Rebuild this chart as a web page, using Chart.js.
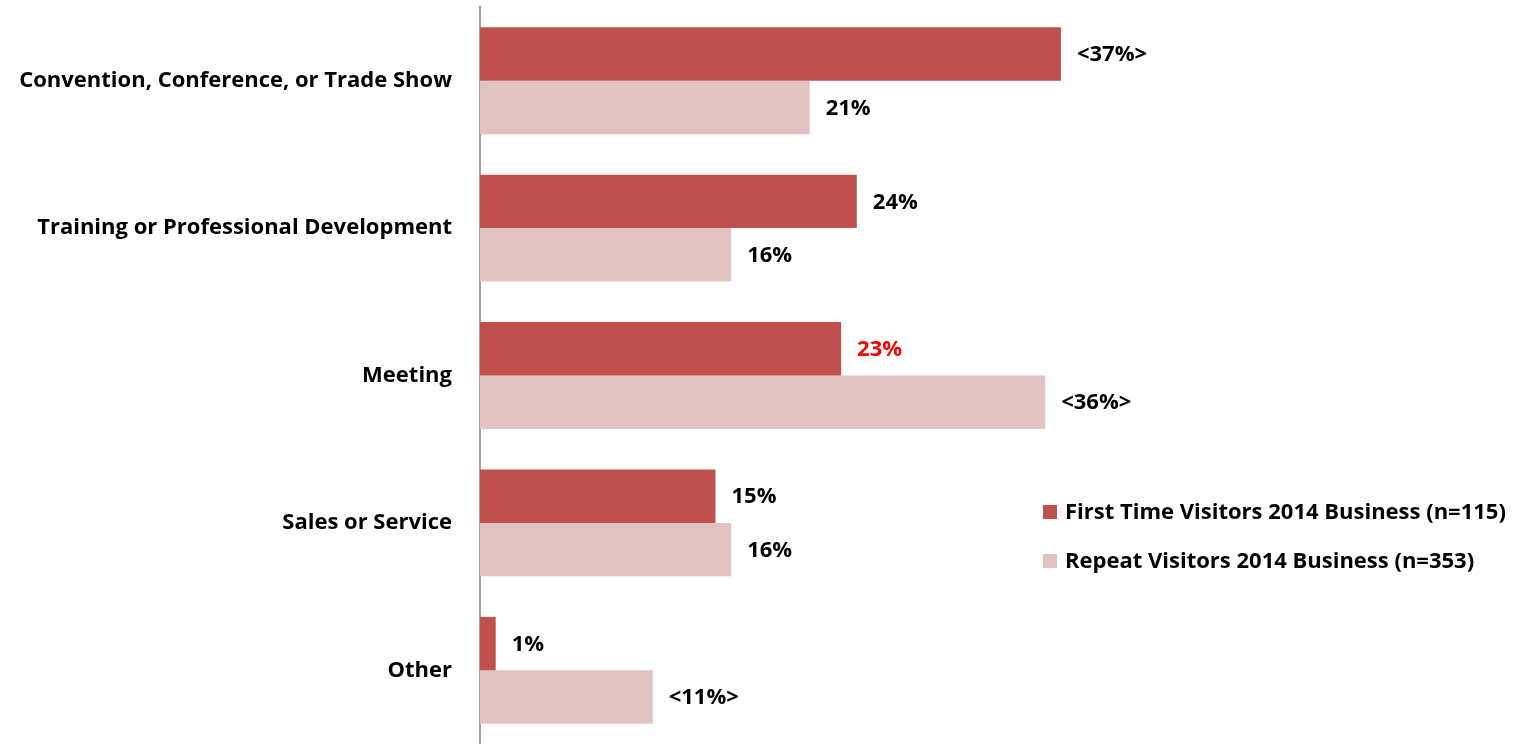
<!DOCTYPE html>
<html>
<head>
<meta charset="utf-8">
<script src="https://cdn.jsdelivr.net/npm/chart.js@4.4.1/dist/chart.umd.min.js"></script>
<style>
  html, body { margin: 0; padding: 0; background: #fff; }
  #wrap { width: 1527px; height: 744px; position: relative; }
</style>
</head>
<body>
<div id="wrap"><canvas id="purposeChart"></canvas></div>
<script>
var categories = [
  "Convention, Conference, or Trade Show",
  "Training or Professional Development",
  "Meeting",
  "Sales or Service",
  "Other"
];
var firstTimeLabel = "First Time Visitors 2014 Business (n=115)";
var repeatLabel = "Repeat Visitors 2014 Business (n=353)";
var firstTimeValues = [37, 24, 23, 15, 1];
var repeatValues = [21, 16, 36, 16, 11];
var firstTimeText = ["<37%>", "24%", "23%", "15%", "1%"];
var repeatText = ["21%", "16%", "<36%>", "16%", "<11%>"];
var firstTimeTextColor = ["#000", "#000", "#ff0000", "#000", "#000"];
var repeatTextColor = ["#000", "#000", "#000", "#000", "#000"];

var FONT = "'Open Sans', Lato, sans-serif";
var darkRed = "#c0504d";
var pink = "#e2c3c4";

// value labels drawn just past the end of each bar
var barLabels = {
  id: "barLabels",
  afterDatasetsDraw: function(chart) {
    var ctx = chart.ctx;
    var texts = [firstTimeText, repeatText];
    var colors = [firstTimeTextColor, repeatTextColor];
    ctx.save();
    ctx.font = "bold 22px " + FONT;
    ctx.textAlign = "left";
    ctx.textBaseline = "middle";
    chart.data.datasets.forEach(function(ds, di) {
      chart.getDatasetMeta(di).data.forEach(function(bar, i) {
        ctx.fillStyle = colors[di][i];
        ctx.fillText(texts[di][i], bar.x + 16, bar.y + 1);
      });
    });
    ctx.restore();
  }
};

// legend sitting inside the plot on the right
var sideLegend = {
  id: "sideLegend",
  afterDraw: function(chart) {
    var ctx = chart.ctx;
    var x = 1043, y = 512, gap = 49;
    ctx.save();
    ctx.font = "bold 22px " + FONT;
    ctx.textBaseline = "middle";
    chart.data.datasets.forEach(function(ds, i) {
      ctx.fillStyle = ds.backgroundColor;
      ctx.fillRect(x, y + i * gap - 7, 14, 14);
      ctx.fillStyle = "#000";
      ctx.fillText(ds.label, x + 22, y + i * gap + 1);
    });
    ctx.restore();
  }
};

var ctx = document.getElementById("purposeChart");
var myChart = new Chart(ctx, {
  type: "bar",
  data: {
    labels: categories,
    datasets: [
      {
        label: firstTimeLabel,
        data: firstTimeValues,
        backgroundColor: darkRed,
        barPercentage: 1,
        categoryPercentage: 0.725
      },
      {
        label: repeatLabel,
        data: repeatValues,
        backgroundColor: pink,
        barPercentage: 1,
        categoryPercentage: 0.725
      }
    ]
  },
  options: {
    indexAxis: "y",
    responsive: true,
    maintainAspectRatio: false,
    animation: false,
    layout: { padding: { top: 7, right: 105, bottom: 0, left: 0 } },
    plugins: {
      legend: { display: false },
      tooltip: { enabled: false }
    },
    scales: {
      x: {
        display: false,
        min: 0,
        max: 60
      },
      y: {
        afterFit: function(scale) {
          scale.width = 480;
          // tick padding should only push labels sideways
          scale.paddingTop = 0;
          scale.paddingBottom = 0;
        },
        grid: { drawOnChartArea: false, drawTicks: false },
        border: { display: true, color: "#a0a0a0", width: 2 },
        ticks: {
          padding: 28,
          color: "#000",
          font: { family: FONT, size: 22, weight: "bold" }
        }
      }
    }
  },
  plugins: [barLabels, sideLegend]
});
</script>
</body>
</html>
